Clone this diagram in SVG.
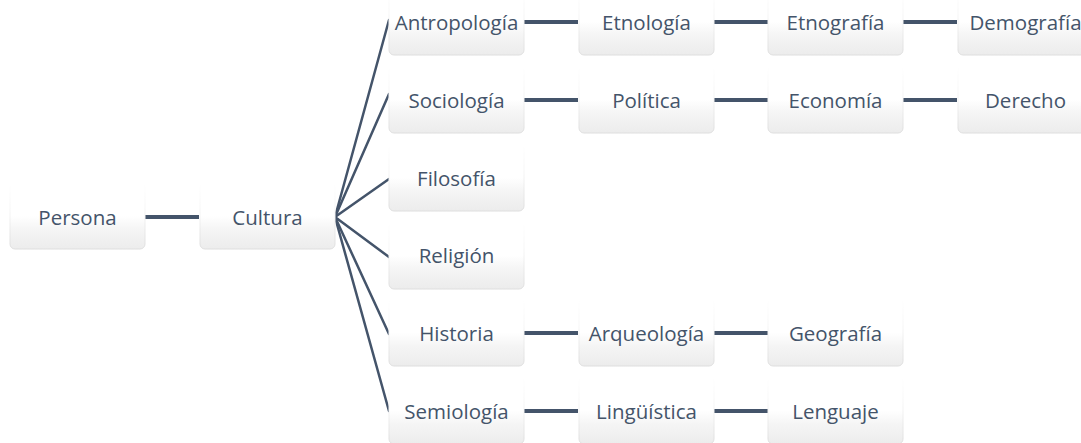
<svg xmlns="http://www.w3.org/2000/svg" width="1081" height="443" viewBox="0 0 1081 443">
<defs>
<linearGradient id="g" x1="0" y1="0" x2="0" y2="1">
<stop offset="0" stop-color="#ffffff"/>
<stop offset="0.5" stop-color="#ffffff"/>
<stop offset="0.7" stop-color="#f5f5f5"/>
<stop offset="1" stop-color="#ececec"/>
</linearGradient>
<linearGradient id="s" x1="0" y1="0" x2="0" y2="1">
<stop offset="0" stop-color="#ffffff"/>
<stop offset="0.4" stop-color="#f6f6f6"/>
<stop offset="1" stop-color="#dedede"/>
</linearGradient>
<style>
.b{fill:url(#g);stroke:url(#s);stroke-width:1}
.t{font-family:"Open Sans","Liberation Sans",sans-serif;font-size:20.5px;fill:#44546A;text-anchor:middle;dominant-baseline:central}
.h{stroke:#44546A;stroke-width:4;fill:none}
.f{stroke:#44546A;stroke-width:2.5;fill:none;stroke-linecap:round}
</style>
</defs>
<rect width="1081" height="443" fill="#ffffff"/>
<g id="connectors">
<line class="h" x1="145" y1="217" x2="199" y2="217"/>
<line class="f" x1="335" y1="217" x2="389" y2="20"/>
<line class="f" x1="335" y1="217" x2="389" y2="94"/>
<line class="f" x1="335" y1="217" x2="389" y2="179"/>
<line class="f" x1="335" y1="217" x2="389" y2="257"/>
<line class="f" x1="335" y1="217" x2="389" y2="334"/>
<line class="f" x1="335" y1="217" x2="389" y2="411"/>
<line class="h" x1="524" y1="22" x2="578" y2="22"/>
<line class="h" x1="714" y1="22" x2="768" y2="22"/>
<line class="h" x1="903" y1="22" x2="957" y2="22"/>
<line class="h" x1="524" y1="100" x2="578" y2="100"/>
<line class="h" x1="714" y1="100" x2="768" y2="100"/>
<line class="h" x1="903" y1="100" x2="957" y2="100"/>
<line class="h" x1="524" y1="333" x2="578" y2="333"/>
<line class="h" x1="714" y1="333" x2="768" y2="333"/>
<line class="h" x1="524" y1="411" x2="578" y2="411"/>
<line class="h" x1="714" y1="411" x2="768" y2="411"/>
</g>
<g id="n-persona"><rect class="b" x="10" y="183" width="135" height="66" rx="5"/><text class="t" x="77.5" y="217">Persona</text></g>
<g id="n-cultura"><rect class="b" x="200" y="183" width="135" height="66" rx="5"/><text class="t" x="267.5" y="217">Cultura</text></g>
<g id="n-antropologia"><rect class="b" x="389" y="-12" width="135" height="67" rx="5"/><text class="t" x="456.5" y="22">Antropología</text></g>
<g id="n-etnologia"><rect class="b" x="579" y="-12" width="135" height="67" rx="5"/><text class="t" x="646.5" y="22">Etnología</text></g>
<g id="n-etnografia"><rect class="b" x="768" y="-12" width="135" height="67" rx="5"/><text class="t" x="835.5" y="22">Etnografía</text></g>
<g id="n-demografia"><rect class="b" x="958" y="-12" width="135" height="67" rx="5"/><text class="t" x="1025.5" y="22">Demografía</text></g>
<g id="n-sociologia"><rect class="b" x="389" y="66" width="135" height="67" rx="5"/><text class="t" x="456.5" y="100">Sociología</text></g>
<g id="n-politica"><rect class="b" x="579" y="66" width="135" height="67" rx="5"/><text class="t" x="646.5" y="100">Política</text></g>
<g id="n-economia"><rect class="b" x="768" y="66" width="135" height="67" rx="5"/><text class="t" x="835.5" y="100">Economía</text></g>
<g id="n-derecho"><rect class="b" x="958" y="66" width="135" height="67" rx="5"/><text class="t" x="1025.5" y="100">Derecho</text></g>
<g id="n-filosofia"><rect class="b" x="389" y="144" width="135" height="67" rx="5"/><text class="t" x="456.5" y="178">Filosofía</text></g>
<g id="n-religion"><rect class="b" x="389" y="222" width="135" height="67" rx="5"/><text class="t" x="456.5" y="255">Religión</text></g>
<g id="n-historia"><rect class="b" x="389" y="299" width="135" height="67" rx="5"/><text class="t" x="456.5" y="333">Historia</text></g>
<g id="n-arqueologia"><rect class="b" x="579" y="299" width="135" height="67" rx="5"/><text class="t" x="646.5" y="333">Arqueología</text></g>
<g id="n-geografia"><rect class="b" x="768" y="299" width="135" height="67" rx="5"/><text class="t" x="835.5" y="333">Geografía</text></g>
<g id="n-semiologia"><rect class="b" x="389" y="377" width="135" height="67" rx="5"/><text class="t" x="456.5" y="411">Semiología</text></g>
<g id="n-linguistica"><rect class="b" x="579" y="377" width="135" height="67" rx="5"/><text class="t" x="646.5" y="411">Lingüística</text></g>
<g id="n-lenguaje"><rect class="b" x="768" y="377" width="135" height="67" rx="5"/><text class="t" x="835.5" y="411">Lenguaje</text></g>
</svg>
